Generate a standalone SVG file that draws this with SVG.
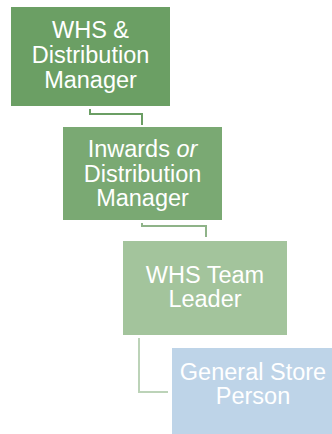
<svg xmlns="http://www.w3.org/2000/svg" width="332" height="434" viewBox="0 0 332 434">
<style>
text{font-family:"Liberation Sans",Arial,sans-serif;font-size:23.5px;fill:#ffffff;text-anchor:middle}
.c{fill:none;stroke-width:2}
</style>
<rect width="332" height="434" fill="#ffffff"/>
<g id="connectors">
<path class="c" d="M90,109 V114 H142 V125" stroke="#6b9e64"/>
<path class="c" d="M142,223 V226 H206 V237" stroke="#8fb389"/>
<path class="c" d="M139,338 V392 H168" stroke="#bcd3b8"/>
</g>
<g id="n1">
<rect x="11" y="7" width="159" height="99" fill="#6b9f64"/>
<text x="90.5" y="38">WHS &amp;</text>
<text x="90.5" y="63">Distribution</text>
<text x="90.5" y="88">Manager</text>
</g>
<g id="n2">
<rect x="63" y="127" width="159" height="93" fill="#7aa973"/>
<text x="142.5" y="157">Inwards <tspan font-style="italic">or</tspan></text>
<text x="142.5" y="182">Distribution</text>
<text x="142.5" y="206">Manager</text>
</g>
<g id="n3">
<rect x="123" y="241" width="164" height="94" fill="#a3c49c"/>
<text x="205" y="283">WHS Team</text>
<text x="205" y="307">Leader</text>
</g>
<g id="n4">
<rect x="172" y="348" width="162" height="90" fill="#bed4e8"/>
<text x="253" y="380">General Store</text>
<text x="253" y="404">Person</text>
</g>
</svg>
